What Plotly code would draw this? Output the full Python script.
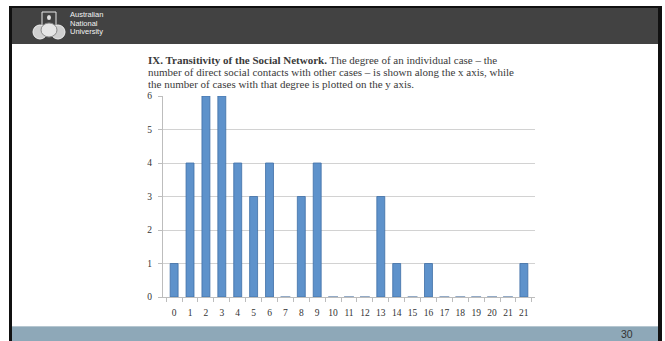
import plotly.graph_objects as go

# ---- data ----
degree_labels = ["0", "1", "2", "3", "4", "5", "6", "7", "8", "9", "10", "11",
                 "12", "13", "14", "15", "16", "17", "18", "19", "20", "21", "21"]
case_counts = [1, 4, 6, 6, 4, 3, 4, 0, 3, 4, 0, 0, 0, 3, 1, 0, 1, 0, 0, 0, 0, 0, 1]
y_ticks = [0, 1, 2, 3, 4, 5, 6]

title_lines = [
    "<b>IX. Transitivity of the Social Network.</b> The degree of an individual case \u2013 the",
    "number of direct social contacts with other cases \u2013 is shown along the x axis, while",
    "the number of cases with that degree is plotted on the y axis.",
]
logo_lines = ["Australian", "National", "University"]
page_number = "30"

# ---- geometry ----
W, H = 665, 341
ML, MR, MT, MB = 163, 130, 96, 44
PW, PH = W - ML - MR, H - MT - MB


def px(x):
    return (x - ML) / PW


def py(y):
    return (H - MB - y) / PH


xs = list(range(len(degree_labels)))
zero_x = [x for x, v in zip(xs, case_counts) if v == 0]
zero_y = [v for v in case_counts if v == 0]

fig = go.Figure()
fig.add_trace(go.Bar(
    x=xs, y=case_counts, width=0.5,
    marker=dict(color="#5e92cb", line=dict(color="#3f6fa6", width=0.8)),
    hoverinfo="skip", showlegend=False,
))
fig.add_trace(go.Scatter(
    x=zero_x, y=zero_y, mode="markers", cliponaxis=False,
    marker=dict(symbol="line-ew", size=7, line=dict(color="#93aac6", width=2)),
    hoverinfo="skip", showlegend=False,
))


def rect(x0, x1, y0, y1, color, layer="below"):
    return dict(type="rect", xref="paper", yref="paper", layer=layer,
                x0=px(x0), x1=px(x1), y0=py(y1), y1=py(y0),
                fillcolor=color, line=dict(width=0))


shapes = [
    rect(9, 661, 7, 44, "#424242"),         # header band
    rect(9, 661, 6, 8, "#111111"),          # header top edge
    rect(12, 658, 327, 341, "#8ea8b8"),     # bottom band
    rect(12, 658, 326, 327, "#b5c6d0"),
    rect(9, 12, 6, 341, "#111111"),         # left border
    rect(658, 662, 6, 341, "#111111"),      # right border
    # crest
    dict(type="rect", xref="paper", yref="paper", layer="above",
         x0=px(42), x1=px(56), y0=py(26), y1=py(12),
         fillcolor="rgba(0,0,0,0)", line=dict(color="#e8e8e8", width=1)),
    dict(type="circle", xref="paper", yref="paper", layer="above",
         x0=px(47), x1=px(51), y0=py(20), y1=py(15),
         fillcolor="#e0e0e0", line=dict(width=0)),
    dict(type="circle", xref="paper", yref="paper", layer="above",
         x0=px(33), x1=px(47), y0=py(39), y1=py(25),
         fillcolor="#cfcfcf", line=dict(color="#f0f0f0", width=1)),
    dict(type="circle", xref="paper", yref="paper", layer="above",
         x0=px(51), x1=px(65), y0=py(39), y1=py(25),
         fillcolor="#cfcfcf", line=dict(color="#f0f0f0", width=1)),
    dict(type="circle", xref="paper", yref="paper", layer="above",
         x0=px(41), x1=px(57), y0=py(37), y1=py(23),
         fillcolor="#e6e6e6", line=dict(color="#8a8a8a", width=1)),
]

annotations = []
for i, line in enumerate(title_lines):
    annotations.append(dict(
        text=line, xref="paper", yref="paper", x=px(146), y=py(60 + 12 * i),
        xanchor="left", yanchor="middle", align="left", showarrow=False,
        font=dict(family="Liberation Serif", size=11, color="#3a3a3a")))
for i, line in enumerate(logo_lines):
    annotations.append(dict(
        text=line, xref="paper", yref="paper", x=px(68), y=py(15 + 8.5 * i),
        xanchor="left", yanchor="middle", align="left", showarrow=False,
        font=dict(family="Liberation Sans Narrow, Liberation Sans", size=7.5, color="#f2f2f2")))
annotations.append(dict(
    text=page_number, xref="paper", yref="paper", x=px(627), y=py(334),
    xanchor="center", yanchor="middle", showarrow=False,
    font=dict(family="Liberation Sans", size=10.5, color="#333333")))

fig.update_layout(
    width=W, height=H,
    margin=dict(l=ML, r=MR, t=MT, b=MB, pad=0),
    paper_bgcolor="white", plot_bgcolor="white",
    bargap=0.5,
    shapes=shapes, annotations=annotations,
    xaxis=dict(
        range=[-0.7, len(xs) - 0.3], tickmode="array", tickvals=xs, ticktext=degree_labels,
        ticks="", showgrid=False, zeroline=False, showline=True, linecolor="#bdbdbd",
        ticklabelstandoff=7,
        tickfont=dict(family="Liberation Serif", size=9.5, color="#333333"),
        minor=dict(ticks="outside", tick0=0.5, dtick=1, ticklen=4, tickcolor="#bdbdbd",
                   showgrid=False),
        fixedrange=True,
    ),
    yaxis=dict(
        range=[0, 6], tickmode="array", tickvals=y_ticks,
        showgrid=True, gridcolor="#d2d2d2", gridwidth=1, zeroline=False,
        showline=True, linecolor="#bdbdbd", ticks="outside", ticklen=4, tickcolor="#bdbdbd",
        ticklabelstandoff=4,
        tickfont=dict(family="Liberation Serif", size=9.5, color="#333333"),
        fixedrange=True,
    ),
)

fig.write_html("out.html", config={"displayModeBar": False, "staticPlot": True},
               post_script="document.body.style.margin='0';")
